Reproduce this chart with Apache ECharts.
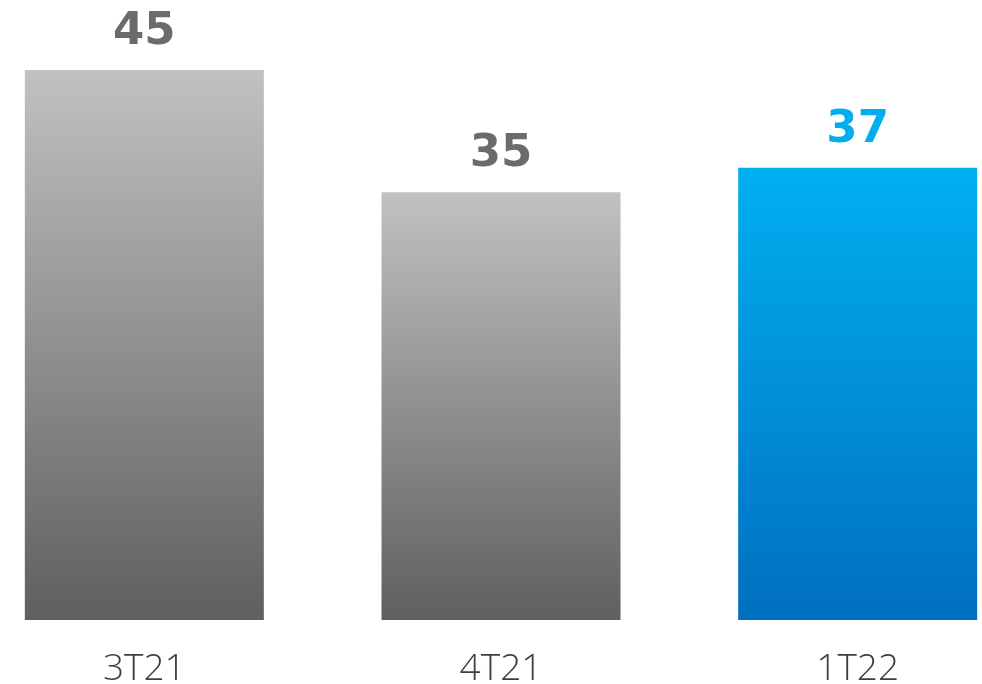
<!DOCTYPE html>
<html>
<head>
<meta charset="utf-8">
<script src="https://cdn.jsdelivr.net/npm/echarts@6/dist/echarts.min.js"></script>
<style>
  html, body { margin: 0; padding: 0; background: #ffffff; }
  #chart { width: 982px; height: 684px; }
</style>
</head>
<body>
<div id="chart"></div>
<script>
// Quarterly values
const categories = ['3T21', '4T21', '1T22'];
const values = [45, 35, 37];
const highlightIndex = 2;

const grayFill = new echarts.graphic.LinearGradient(0, 0, 0, 1, [
  { offset: 0, color: '#c1c1c1' },
  { offset: 1, color: '#5f5f5f' }
]);
const blueFill = new echarts.graphic.LinearGradient(0, 0, 0, 1, [
  { offset: 0, color: '#00b0f0' },
  { offset: 1, color: '#006fc0' }
]);

const chart = echarts.init(document.getElementById('chart'));
chart.setOption({
  animation: false,
  grid: { left: -34, right: -54, top: 70, bottom: 64, outerBoundsMode: 'none', containLabel: false },
  xAxis: {
    type: 'category',
    data: categories,
    axisLine: { show: false },
    axisTick: { show: false },
    axisLabel: {
      margin: 31,
      fontFamily: 'Open Sans',
      fontWeight: 300,
      fontSize: 37,
      color: '#3f3f3f'
    }
  },
  yAxis: {
    type: 'value',
    min: 0,
    max: 45,
    show: false,
    splitLine: { show: false }
  },
  series: [{
    type: 'bar',
    barWidth: 239,
    data: values.map((v, i) => ({
      value: v,
      itemStyle: { color: i === highlightIndex ? blueFill : grayFill },
      label: { color: i === highlightIndex ? '#00aeef' : '#6b6b6b' }
    })),
    label: {
      show: true,
      position: 'top',
      distance: 15,
      fontFamily: 'DejaVu Sans',
      fontWeight: 'bold',
      fontSize: 45
    }
  }]
});
</script>
</body>
</html>
